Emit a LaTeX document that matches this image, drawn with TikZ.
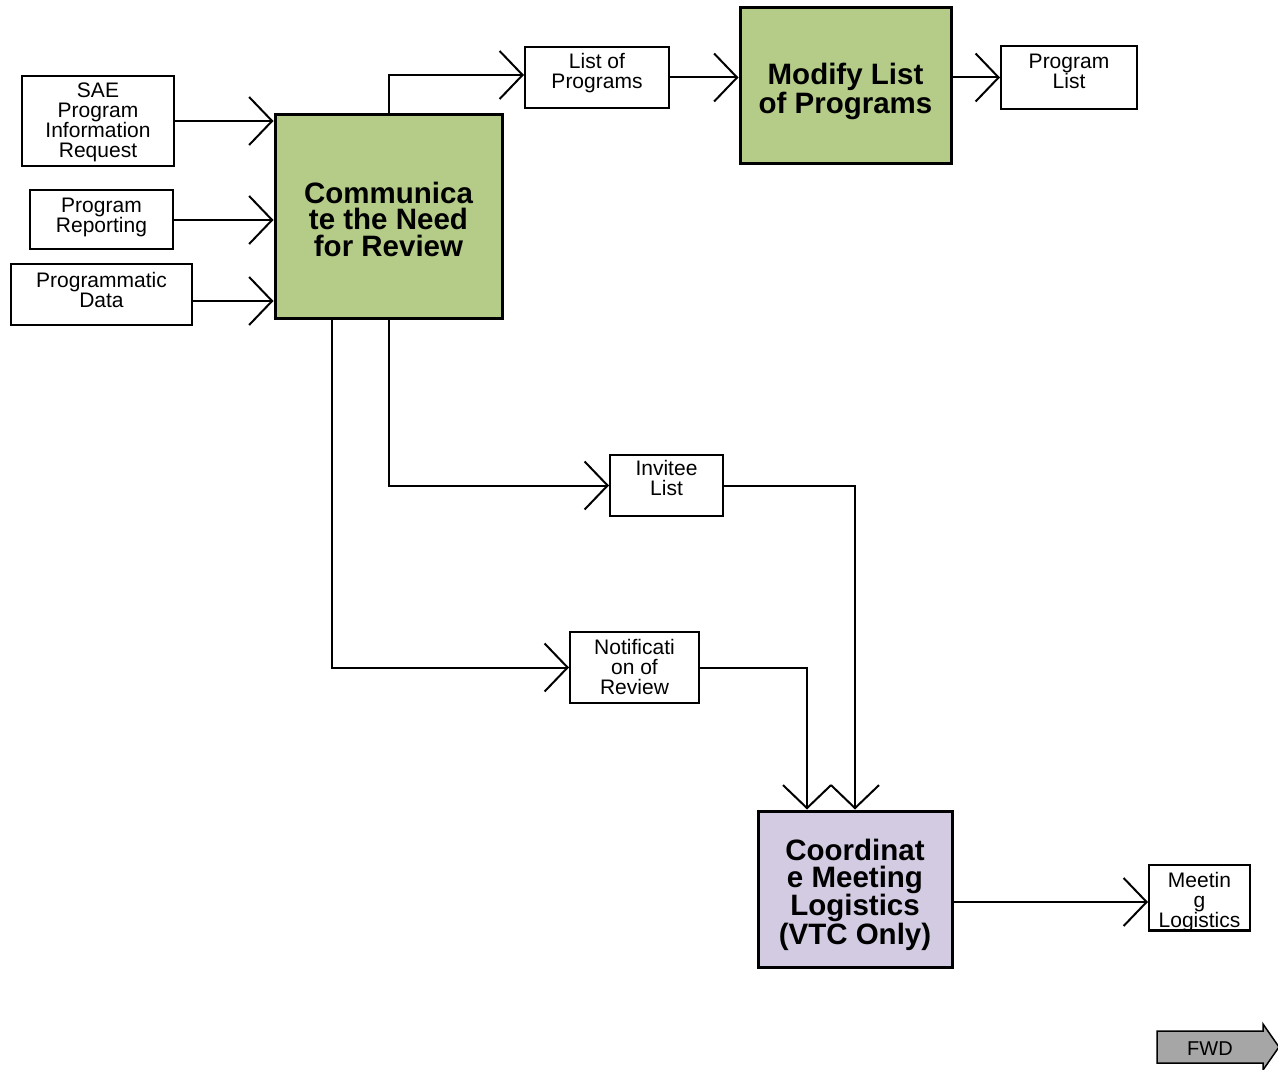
\documentclass[tikz,border=0pt]{standalone}
\usepackage{fontspec}
\setmainfont{Liberation Sans}
\usetikzlibrary{arrows.meta}
\definecolor{procgreen}{RGB}{181,204,136}
\definecolor{proclav}{RGB}{211,203,226}
\definecolor{fwdgray}{RGB}{166,166,166}
\begin{document}
\begin{tikzpicture}[x=1pt,y=-1pt,
  databox/.style={draw=black,line width=2pt,fill=white,inner sep=0pt},
  datatxt/.style={inner sep=0pt,align=center,font=\fontsize{21}{20}\selectfont},
  procbox/.style={draw=black,line width=3pt,inner sep=0pt},
  proctxt/.style={inner sep=0pt,align=center,font=\fontsize{29.5}{26.5}\selectfont\bfseries},
  flow/.style={line width=2pt,-{Straight Barb[length=23pt,width=48pt,line width=2pt]}}]
\useasboundingbox (0,0) rectangle (1278,1070);
% data boxes
\node[databox,minimum width=152pt,minimum height=90pt] (sae) at (98,121) {};
\node[databox,minimum width=143pt,minimum height=59pt] (prep) at (101.5,219.5) {};
\node[databox,minimum width=181pt,minimum height=61pt] (pdata) at (101.5,294.5) {};
\node[databox,minimum width=144pt,minimum height=61pt] (lop) at (597,77.5) {};
\node[databox,minimum width=136pt,minimum height=63pt] (plist) at (1069,77.5) {};
\node[databox,minimum width=113pt,minimum height=61pt] (invitee) at (666.5,485.5) {};
\node[databox,minimum width=129pt,minimum height=71pt] (notif) at (634.5,667.5) {};
\node[databox,minimum width=101pt,minimum height=65pt] (meet) at (1199.5,897.5) {};
% process boxes
\node[procbox,fill=procgreen,minimum width=227pt,minimum height=203pt] (comm) at (388.5,216.5) {};
\node[procbox,fill=procgreen,minimum width=211pt,minimum height=156pt] (modify) at (845.5,86) {};
\node[procbox,fill=proclav,minimum width=194pt,minimum height=156pt] (coord) at (855,889) {};
% texts
\node[datatxt] (saeT) at ([yshift=-1pt]sae.center) {SAE\\Program\\Information\\Request};
\node[datatxt] (prepT) at ([yshift=2pt]prep.center) {Program\\Reporting};
\node[datatxt] (pdataT) at ([yshift=5pt]pdata.center) {Programmatic\\Data};
\node[datatxt] (lopT) at ([yshift=4pt]lop.center) {List of\\Programs};
\node[datatxt] (plistT) at ([yshift=6pt]plist.center) {Program\\List};
\node[datatxt] (inviteeT) at ([yshift=8pt]invitee.center) {Invitee\\List};
\node[datatxt] (notifT) at ([yshift=1pt]notif.center) {Notificati\\on of\\Review};
\node[datatxt] (meetT) at ([yshift=-5pt]meet.center) {Meetin\\g\\Logistics};
\node[proctxt] (commT) at ([yshift=-2.5pt]comm.center) {Communica\\te the Need\\for Review};
\node[proctxt] (modifyT) at ([yshift=-5.5pt]modify.center) {Modify List\\of Programs};
\node[proctxt] (coordT) at ([yshift=-6pt]coord.center) {Coordinat\\e Meeting\\Logistics\\(VTC Only)};
\draw[line width=2pt] (meet.south west) -- (meet.south east);
% connectors
\draw[flow] (sae.east) -- (sae.east -| comm.west);
\draw[flow] ([yshift=-0.5pt]prep.east) -- ([yshift=-0.5pt]prep.east -| comm.west);
\draw[flow] ([yshift=-6.5pt]pdata.east) -- ([yshift=-6.5pt]pdata.east -| comm.west);
\draw[flow] (comm.north) |- ([yshift=2.5pt]lop.west);
\draw[flow] (lop.east) -- (lop.east -| modify.west);
\draw[flow] (modify.east |- plist.west) -- (plist.west);
\draw[flow] (comm.south) |- (invitee.west);
\draw[flow] ([xshift=-56.5pt]comm.south) |- (notif.west);
\draw[flow] (invitee.east) -| (coord.north);
\draw[flow] (notif.east) -| ([xshift=-48pt]coord.north);
\draw[flow] ([yshift=-4.5pt]meet.west -| coord.east) -- ([yshift=-4.5pt]meet.west);
% FWD arrow
\draw[line width=1.5pt,fill=fwdgray] (1157,1031) -- (1263,1031) -- (1263,1024) -- (1279,1047) -- (1263,1070) -- (1263,1063) -- (1157,1063) -- cycle;
\node[font=\fontsize{20}{20}\selectfont,inner sep=0pt] (fwd) at (1210,1049) {FWD};
\end{tikzpicture}
\end{document}
